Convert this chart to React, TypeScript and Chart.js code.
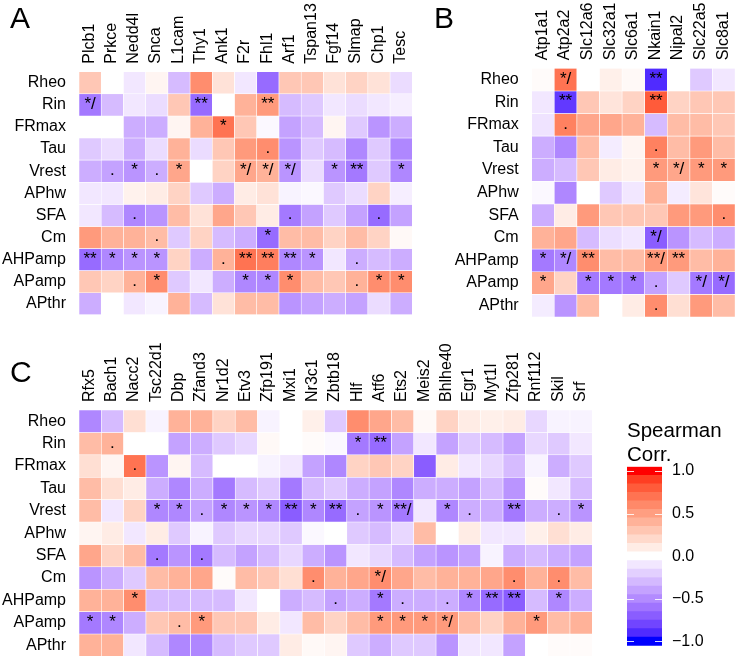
import React, { useEffect, useRef } from 'react';
import { Chart, registerables } from 'chart.js';

Chart.register(...registerables);

const FONT = "'Liberation Sans', Arial, Helvetica, sans-serif";

// ---------------- data ----------------
const rowLabels = ['Rheo', 'Rin', 'FRmax', 'Tau', 'Vrest', 'APhw', 'SFA', 'Cm', 'AHPamp', 'APamp', 'APthr'];

const genesA = ['Plcb1', 'Prkce', 'Nedd4l', 'Snca', 'L1cam', 'Thy1', 'Ank1', 'F2r', 'Fhl1', 'Arf1', 'Tspan13', 'Fgf14', 'Slmap', 'Chp1', 'Tesc'];
const valuesA = [
  [0.29, 0.0, -0.1, 0.05, -0.29, 0.58, 0.15, -0.1, -0.64, 0.29, 0.29, 0.15, 0.23, 0.15, -0.15],
  [-0.58, -0.29, -0.1, -0.15, 0.29, -0.64, 0.0, 0.4, 0.52, -0.29, -0.23, -0.1, -0.15, -0.1, -0.07],
  [0.0, 0.0, -0.35, -0.35, 0.05, 0.4, 0.7, 0.29, -0.03, -0.4, -0.29, 0.05, -0.23, -0.46, -0.35],
  [-0.23, -0.15, -0.35, -0.15, 0.4, -0.15, 0.29, 0.52, 0.58, -0.46, -0.23, -0.29, -0.52, -0.23, -0.52],
  [-0.35, -0.4, -0.46, -0.35, 0.46, 0.0, 0.23, 0.46, 0.4, -0.46, -0.15, -0.46, -0.58, -0.23, -0.52],
  [-0.1, -0.1, 0.07, 0.1, 0.23, -0.23, -0.35, 0.1, 0.15, -0.05, -0.03, -0.23, -0.15, 0.23, -0.07],
  [-0.1, -0.29, -0.52, -0.46, 0.35, 0.15, 0.46, 0.29, 0.1, -0.58, -0.4, -0.23, -0.4, -0.64, -0.4],
  [0.52, 0.4, 0.4, 0.35, -0.23, 0.23, -0.29, -0.35, -0.64, 0.35, 0.35, 0.23, 0.35, 0.23, 0.03],
  [-0.64, -0.52, -0.46, -0.46, 0.23, -0.35, 0.4, 0.7, 0.65, -0.52, -0.46, -0.1, -0.35, -0.29, -0.35],
  [0.29, 0.23, 0.4, 0.58, -0.23, -0.1, -0.35, -0.52, -0.52, 0.58, 0.35, 0.29, 0.4, 0.58, 0.58],
  [-0.35, 0.0, -0.1, -0.05, 0.4, -0.29, 0.15, 0.35, 0.35, -0.46, -0.4, -0.35, -0.4, -0.15, -0.35],
];
const sigA = [
  ['', '', '', '', '', '', '', '', '', '', '', '', '', '', ''],
  ['*/', '', '', '', '', '**', '', '', '**', '', '', '', '', '', ''],
  ['', '', '', '', '', '', '*', '', '', '', '', '', '', '', ''],
  ['', '', '', '', '', '', '', '', '.', '', '', '', '', '', ''],
  ['', '.', '*', '.', '*', '', '', '*/', '*/', '*/', '', '*', '**', '', '*'],
  ['', '', '', '', '', '', '', '', '', '', '', '', '', '', ''],
  ['', '', '.', '', '', '', '', '', '', '.', '', '', '', '.', ''],
  ['', '', '', '.', '', '', '', '', '*', '', '', '', '', '', ''],
  ['**', '*', '*', '*', '', '', '.', '**', '**', '**', '*', '', '.', '', ''],
  ['', '', '.', '*', '', '', '', '*', '*', '*', '', '', '.', '*', '*'],
  ['', '', '', '', '', '', '', '', '', '', '', '', '', '', ''],
];

const genesB = ['Atp1a1', 'Atp2a2', 'Slc12a6', 'Slc32a1', 'Slc6a1', 'Nkain1', 'Nipal2', 'Slc22a5', 'Slc8a1'];
const valuesB = [
  [0.02, 0.7, 0.0, 0.08, 0.03, -0.9, 0.0, -0.23, -0.1],
  [-0.1, -0.85, 0.29, 0.14, 0.23, 0.8, 0.23, 0.29, 0.29],
  [-0.12, 0.64, 0.46, 0.46, 0.4, -0.29, 0.35, 0.35, 0.29],
  [-0.35, -0.52, 0.35, -0.08, 0.05, 0.64, 0.35, 0.52, 0.35],
  [-0.35, -0.29, 0.29, 0.1, 0.07, 0.52, 0.46, 0.52, 0.52],
  [-0.03, -0.52, 0.0, -0.23, -0.1, 0.4, -0.08, 0.14, 0.02],
  [-0.35, 0.1, 0.52, 0.29, 0.29, 0.29, 0.52, 0.52, 0.58],
  [0.4, 0.46, -0.29, -0.14, -0.1, -0.7, -0.46, -0.29, -0.35],
  [-0.58, -0.52, 0.58, 0.35, 0.35, 0.52, 0.52, 0.35, 0.4],
  [0.46, 0.23, -0.58, -0.58, -0.58, -0.4, -0.23, -0.58, -0.64],
  [-0.08, -0.46, 0.35, 0.0, 0.1, 0.58, 0.17, 0.52, 0.35],
];
const sigB = [
  ['', '*/', '', '', '', '**', '', '', ''],
  ['', '**', '', '', '', '**', '', '', ''],
  ['', '.', '', '', '', '', '', '', ''],
  ['', '', '', '', '', '.', '', '', ''],
  ['', '', '', '', '', '*', '*/', '*', '*'],
  ['', '', '', '', '', '', '', '', ''],
  ['', '', '', '', '', '', '', '', '.'],
  ['', '', '', '', '', '*/', '', '', ''],
  ['*', '*/', '**', '', '', '**/', '**', '', ''],
  ['*', '', '*', '*', '*', '.', '', '*/', '*/'],
  ['', '', '', '', '', '.', '', '', ''],
];

const genesC = ['Rfx5', 'Bach1', 'Nacc2', 'Tsc22d1', 'Dbp', 'Zfand3', 'Nr1d2', 'Etv3', 'Zfp191', 'Mxi1', 'Nr3c1', 'Zbtb18', 'Hlf', 'Atf6', 'Ets2', 'Meis2', 'Bhlhe40', 'Egr1', 'Myt1l', 'Zfp281', 'Rnf112', 'Skil', 'Srf'];
const valuesC = [
  [-0.52, -0.29, 0.17, -0.05, 0.4, 0.4, 0.23, 0.35, -0.05, 0.0, 0.08, -0.23, 0.58, 0.46, 0.35, 0.03, 0.23, 0.1, 0.08, 0.1, -0.17, -0.05, -0.05],
  [0.35, 0.4, 0.0, 0.0, -0.4, -0.35, -0.23, -0.17, 0.03, 0.0, 0.02, -0.03, -0.58, -0.64, -0.4, -0.1, -0.4, -0.23, -0.29, -0.4, -0.17, -0.23, -0.1],
  [0.17, 0.05, 0.7, -0.46, 0.05, -0.29, 0.0, 0.0, -0.05, -0.1, -0.4, -0.52, 0.23, 0.29, 0.23, -0.7, 0.1, -0.1, -0.17, -0.29, -0.05, -0.35, -0.23],
  [0.35, 0.17, 0.1, -0.35, -0.52, -0.35, -0.58, -0.29, -0.23, -0.58, -0.29, -0.23, -0.35, -0.4, -0.52, -0.35, -0.35, -0.4, -0.29, -0.46, 0.02, -0.1, -0.29],
  [0.35, -0.1, 0.23, -0.52, -0.52, -0.4, -0.52, -0.46, -0.52, -0.7, -0.52, -0.64, -0.4, -0.46, -0.58, -0.1, -0.52, -0.35, -0.35, -0.58, -0.35, -0.35, -0.46],
  [0.05, 0.1, -0.1, 0.1, -0.23, -0.05, -0.23, -0.17, -0.17, -0.23, -0.03, 0.0, -0.23, -0.29, -0.17, 0.35, 0.0, 0.1, -0.1, -0.1, 0.08, 0.17, 0.1],
  [0.46, 0.23, 0.35, -0.58, -0.46, -0.58, -0.29, -0.4, -0.29, -0.17, -0.35, -0.46, -0.1, -0.17, -0.29, -0.4, -0.46, -0.4, -0.05, -0.35, -0.29, -0.35, -0.4],
  [-0.46, -0.35, -0.23, 0.35, 0.4, 0.46, 0.02, 0.35, 0.29, 0.17, 0.58, 0.4, 0.46, 0.58, 0.46, 0.35, 0.4, 0.4, 0.46, 0.58, 0.4, 0.58, 0.35],
  [0.4, 0.4, 0.58, -0.29, -0.29, -0.29, -0.29, -0.1, 0.0, -0.35, -0.29, -0.4, -0.35, -0.58, -0.35, -0.35, -0.35, -0.52, -0.64, -0.7, -0.29, -0.52, -0.35],
  [-0.58, -0.52, -0.35, 0.29, 0.35, 0.52, 0.29, 0.29, 0.1, -0.1, 0.35, 0.23, 0.35, 0.52, 0.52, 0.52, 0.52, 0.35, 0.23, 0.4, 0.52, 0.35, 0.4],
  [0.4, 0.4, -0.1, -0.29, -0.52, -0.52, -0.29, -0.23, -0.23, 0.1, 0.03, 0.05, -0.23, -0.35, -0.23, -0.23, -0.46, -0.1, -0.1, -0.4, 0.0, 0.02, 0.02],
];
const sigC = [
  ['', '', '', '', '', '', '', '', '', '', '', '', '', '', '', '', '', '', '', '', '', '', ''],
  ['', '.', '', '', '', '', '', '', '', '', '', '', '*', '**', '', '', '', '', '', '', '', '', ''],
  ['', '', '.', '', '', '', '', '', '', '', '', '', '', '', '', '', '', '', '', '', '', '', ''],
  ['', '', '', '', '', '', '', '', '', '', '', '', '', '', '', '', '', '', '', '', '', '', ''],
  ['', '', '', '*', '*', '.', '*', '*', '*', '**', '*', '**', '.', '*', '**/', '', '*', '.', '', '**', '', '.', '*'],
  ['', '', '', '', '', '', '', '', '', '', '', '', '', '', '', '', '', '', '', '', '', '', ''],
  ['', '', '', '.', '', '.', '', '', '', '', '', '', '', '', '', '', '', '', '', '', '', '', ''],
  ['', '', '', '', '', '', '', '', '', '', '.', '', '', '*/', '', '', '', '', '', '.', '', '.', ''],
  ['', '', '*', '', '', '', '', '', '', '', '', '.', '', '*', '.', '', '.', '*', '**', '**', '', '*', ''],
  ['*', '*', '', '', '.', '*', '', '', '', '', '', '', '', '*', '*', '*', '*/', '', '', '', '*', '', ''],
  ['', '', '', '', '', '', '', '', '', '', '', '', '', '', '', '', '', '', '', '', '', '', ''],
];

const legendTicks = [-1, -0.5, 0, 0.5, 1];
const legendBins = [-1.0, -0.9, -0.8, -0.7, -0.6, -0.5, -0.4, -0.3, -0.2, -0.1, 0, 0.1, 0.2, 0.3, 0.4, 0.5, 0.6, 0.7, 0.8, 0.9, 1.0];
const legendTitle = ['Spearman', 'Corr.'];

// ---------------- colours (Lab interpolation white -> red / blue) ----------------
const LAB_RED = [53.2408, 80.0925, 67.2032];
const LAB_BLUE = [32.297, 79.1875, -107.8602];

function labToHex(L: number, a: number, b: number): string {
  const fy = (L + 16) / 116;
  const fx = fy + a / 500;
  const fz = fy - b / 200;
  const d = 6 / 29;
  const finv = (t: number) => (t > d ? t * t * t : 3 * d * d * (t - 4 / 29));
  const X = 0.95047 * finv(fx);
  const Y = finv(fy);
  const Z = 1.08883 * finv(fz);
  const lin = [
    3.2404542 * X - 1.5371385 * Y - 0.4985314 * Z,
    -0.969266 * X + 1.8760108 * Y + 0.041556 * Z,
    0.0556434 * X - 0.2040259 * Y + 1.0572252 * Z,
  ];
  const out = lin.map((c) => {
    const cc = Math.min(1, Math.max(0, c));
    const g = cc <= 0.0031308 ? 12.92 * cc : 1.055 * Math.pow(cc, 1 / 2.4) - 0.055;
    return Math.round(g * 255);
  });
  return `rgb(${out[0]},${out[1]},${out[2]})`;
}

function corrColor(v: number): string {
  const t = Math.min(1, Math.abs(v));
  const tgt = v >= 0 ? LAB_RED : LAB_BLUE;
  return labToHex(100 + (tgt[0] - 100) * t, tgt[1] * t, tgt[2] * t);
}

// ---------------- chart builders ----------------
const CW = 760;
const CH = 700;

type Box = { left: number; top: number; right: number; bottom: number; yw: number; xh: number };

function heatmapConfig(genes: string[], values: number[][], sigs: string[][], box: Box): any {
  const tickFont = { family: FONT, size: 16 };
  return {
    type: 'bar',
    data: {
      labels: genes,
      datasets: values.map((row, i) => ({
        label: rowLabels[i],
        data: row.map(() => [i - 0.5, i + 0.5]),
        backgroundColor: row.map(corrColor),
        borderColor: '#ffffff',
        borderWidth: 0.6,
        borderSkipped: false,
        grouped: false,
        barPercentage: 1,
        categoryPercentage: 1,
      })),
    },
    options: {
      responsive: false,
      animation: false,
      events: [],
      layout: {
        padding: {
          left: box.left - box.yw,
          top: box.top - box.xh,
          right: CW - box.right,
          bottom: CH - box.bottom,
        },
      },
      plugins: { legend: { display: false }, tooltip: { enabled: false }, title: { display: false } },
      scales: {
        x: {
          type: 'category',
          position: 'top',
          offset: true,
          grid: { display: false, drawTicks: false },
          border: { display: false },
          ticks: {
            autoSkip: false,
            minRotation: 90,
            maxRotation: 90,
            padding: 8,
            labelOffset: 18.5,
            color: '#000',
            font: tickFont,
          },
          afterFit: (s: any) => {
            s.height = box.xh;
          },
        },
        y: {
          type: 'linear',
          reverse: true,
          min: -0.5,
          max: rowLabels.length - 0.5,
          grid: { display: false, drawTicks: false },
          border: { display: false },
          afterBuildTicks: (s: any) => {
            s.ticks = rowLabels.map((_, i) => ({ value: i }));
          },
          ticks: {
            callback: (v: any) => rowLabels[Math.round(v)] ?? '',
            padding: 13,
            color: '#000',
            font: tickFont,
          },
          afterFit: (s: any) => {
            s.width = box.yw;
          },
        },
      },
    },
    plugins: [
      {
        id: 'sigText',
        afterDatasetsDraw(chart: any) {
          const { ctx } = chart;
          const xs = chart.scales.x;
          const ys = chart.scales.y;
          ctx.save();
          ctx.font = `17px ${FONT}`;
          ctx.fillStyle = '#000';
          ctx.textAlign = 'center';
          ctx.textBaseline = 'alphabetic';
          sigs.forEach((row, i) =>
            row.forEach((s, j) => {
              if (!s) return;
              ctx.fillText(s, xs.getPixelForValue(j), ys.getPixelForValue(i) + 4);
            })
          );
          ctx.restore();
        },
      },
    ],
  };
}

function fmtTick(v: number): string {
  if (Math.abs(v) < 1e-9) return '0.0';
  return (v < 0 ? '\u2212' : '') + Math.abs(v).toFixed(1);
}

function legendConfig(box: { left: number; top: number; right: number; bottom: number }): any {
  return {
    type: 'bar',
    data: {
      labels: [''],
      datasets: legendBins.map((c) => ({
        data: [[c - 0.05, c + 0.05]],
        backgroundColor: Math.abs(c) < 1e-9 ? '#ffffff' : corrColor(c),
        borderWidth: 0,
        grouped: false,
        barPercentage: 1,
        categoryPercentage: 1,
      })),
    },
    options: {
      responsive: false,
      animation: false,
      events: [],
      layout: {
        padding: { left: box.left, top: box.top, right: CW - box.right - 60, bottom: CH - box.bottom },
      },
      plugins: { legend: { display: false }, tooltip: { enabled: false } },
      scales: {
        x: { display: false, offset: true },
        y: {
          position: 'right',
          min: -1.05,
          max: 1.05,
          grid: { display: false, drawTicks: false },
          border: { display: false },
          afterBuildTicks: (s: any) => {
            s.ticks = legendTicks.map((v) => ({ value: v }));
          },
          ticks: { callback: (v: any) => fmtTick(Number(v)), padding: 10, color: '#000', font: { family: FONT, size: 16 } },
          afterFit: (s: any) => {
            s.width = 60;
          },
        },
      },
    },
    plugins: [
      {
        id: 'dashes',
        afterDatasetsDraw(chart: any) {
          const { ctx, chartArea } = chart;
          const ys = chart.scales.y;
          ctx.save();
          ctx.strokeStyle = 'rgba(255,255,255,0.85)';
          ctx.lineWidth = 1;
          legendTicks.forEach((v) => {
            const y = Math.round(ys.getPixelForValue(v)) + 0.5;
            ctx.beginPath();
            ctx.moveTo(chartArea.left, y);
            ctx.lineTo(chartArea.left + 7, y);
            ctx.moveTo(chartArea.right - 7, y);
            ctx.lineTo(chartArea.right, y);
            ctx.stroke();
          });
          ctx.restore();
        },
      },
    ],
  };
}

function ChartCanvas({ config }: { config: any }) {
  const ref = useRef<HTMLCanvasElement | null>(null);
  useEffect(() => {
    if (!ref.current) return;
    const chart = new Chart(ref.current, config);
    return () => chart.destroy();
  }, [config]);
  return (
    <canvas
      ref={ref}
      width={CW}
      height={CH}
      style={{ position: 'absolute', left: 0, top: 0, width: CW, height: CH }}
    />
  );
}

const cfgA = heatmapConfig(genesA, valuesA, sigA, { left: 79, top: 71.7, right: 412.3, bottom: 314.8, yw: 79, xh: 71 });
const cfgB = heatmapConfig(genesB, valuesB, sigB, { left: 531.7, top: 68.3, right: 735.1, bottom: 316.9, yw: 100, xh: 68 });
const cfgC = heatmapConfig(genesC, valuesC, sigC, { left: 79, top: 410, right: 592.3, bottom: 656.4, yw: 79, xh: 100 });
const cfgL = legendConfig({ left: 627, top: 466.7, right: 662, bottom: 645.7 });

const letterStyle: React.CSSProperties = {
  position: 'absolute',
  fontFamily: FONT,
  fontSize: 30,
  lineHeight: '30px',
  color: '#000',
};

export default function App() {
  return (
    <div
      style={{
        position: 'absolute',
        left: 0,
        top: 0,
        width: 735,
        height: 656,
        overflow: 'hidden',
        background: '#fff',
      }}
    >
      <ChartCanvas config={cfgA} />
      <ChartCanvas config={cfgB} />
      <ChartCanvas config={cfgC} />
      <ChartCanvas config={cfgL} />
      <div style={{ ...letterStyle, left: 10, top: 3 }}>A</div>
      <div style={{ ...letterStyle, left: 434, top: 3 }}>B</div>
      <div style={{ ...letterStyle, left: 10, top: 357 }}>C</div>
      <div
        style={{
          position: 'absolute',
          left: 627,
          top: 418,
          fontFamily: FONT,
          fontSize: 20.5,
          lineHeight: '24px',
          color: '#000',
        }}
      >
        {legendTitle.map((t) => (
          <div key={t}>{t}</div>
        ))}
      </div>
    </div>
  );
}
